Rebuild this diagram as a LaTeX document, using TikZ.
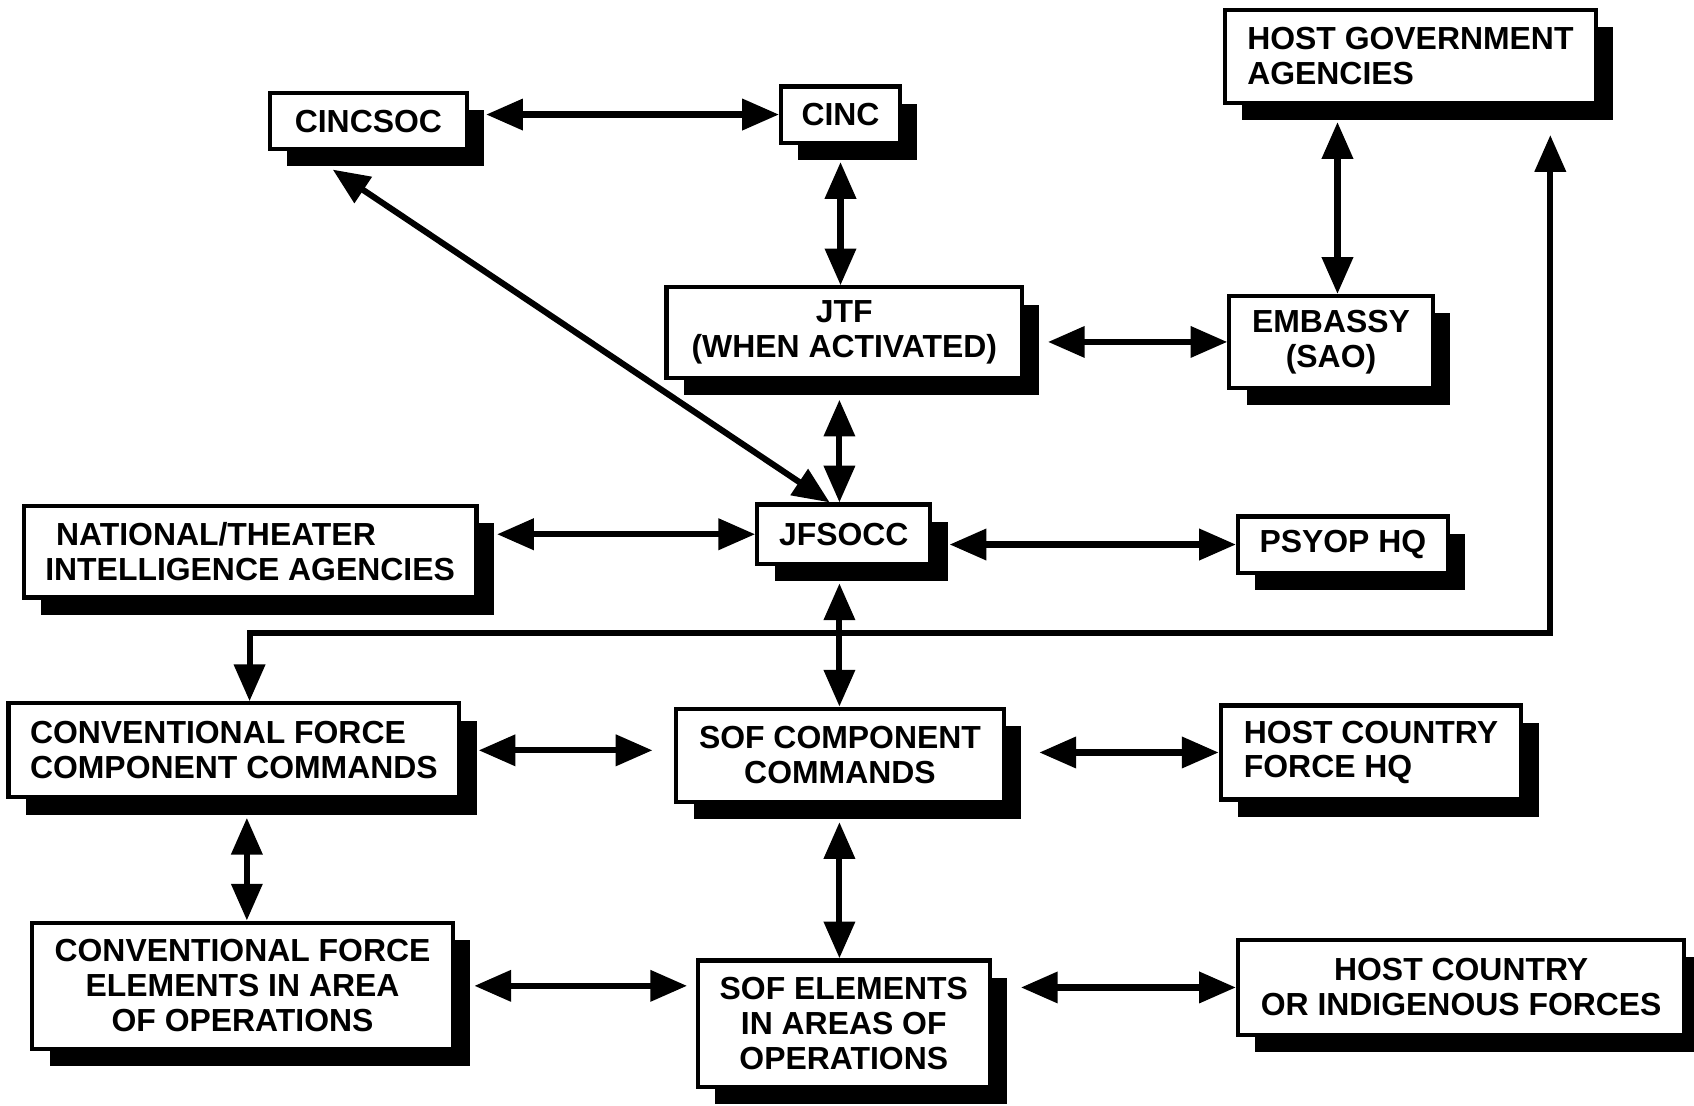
\documentclass[tikz,border=0pt]{standalone}
\usepackage{fontspec}
\setmainfont{Liberation Sans}
\usetikzlibrary{arrows.meta,shadows}

\begin{document}
\begin{tikzpicture}[
	x=0.01cm,
	y=-0.01cm,
	line join=miter
]
\tikzset{
    unitbox/.style = {draw=black, fill=white, line width=1.1pt, inner sep=0pt, align=center,
        font=\bfseries\fontsize{8.4}{9.2}\selectfont,
        drop shadow={shadow xshift=0.16cm, shadow yshift=-0.16cm, fill=black, opacity=1}},
    leftbox/.style = {unitbox, align=left},
    link/.style = {line width=1.6pt,
        {Triangle[length=0.34cm,width=0.28cm]}-{Triangle[length=0.34cm,width=0.28cm]}},
}
    \useasboundingbox (0,0) rectangle (1568,1023);

    \node (cincsoc) [unitbox, minimum width=1.82cm, minimum height=0.52cm] at (341,112) {CINCSOC};
    \node (cinc) [unitbox, minimum width=1.10cm, minimum height=0.52cm] at (778,106) {CINC};
    \node (hga) [leftbox, minimum width=3.43cm, minimum height=0.86cm] at (1305.5,52) {HOST GOVERNMENT\\AGENCIES};
    \node (jtf) [unitbox, minimum width=3.29cm, minimum height=0.84cm] at (781.5,308) {JTF\\(WHEN ACTIVATED)};
    \node (emb) [unitbox, minimum width=1.88cm, minimum height=0.85cm] at (1232,316.5) {EMBASSY\\(SAO)};
    \node (nat) [leftbox, minimum width=4.19cm, minimum height=0.85cm] at (231.5,510.5) {\hspace*{0.1cm}NATIONAL/THEATER\\INTELLIGENCE AGENCIES};
    \node (jfsocc) [unitbox, minimum width=1.60cm, minimum height=0.55cm] at (781,494.5) {JFSOCC};
    \node (psyop) [unitbox, minimum width=1.94cm, minimum height=0.52cm] at (1243,504) {PSYOP HQ};
    \node (cfcc) [leftbox, minimum width=4.17cm, minimum height=0.87cm] at (216.5,694.5) {CONVENTIONAL FORCE\\COMPONENT COMMANDS};
    \node (sofcc) [unitbox, minimum width=3.03cm, minimum height=0.86cm] at (777.5,699) {SOF COMPONENT\\COMMANDS};
    \node (hcfhq) [leftbox, minimum width=2.78cm, minimum height=0.87cm] at (1269,696.5) {HOST COUNTRY\\FORCE HQ};
    \node (cfe) [unitbox, minimum width=3.89cm, minimum height=1.17cm] at (224.5,912.5) {CONVENTIONAL FORCE\\ELEMENTS IN AREA\\OF OPERATIONS};
    \node (sofe) [unitbox, minimum width=2.70cm, minimum height=1.17cm] at (781,947.5) {SOF ELEMENTS\\IN AREAS OF\\OPERATIONS};
    \node (hcif) [unitbox, minimum width=4.13cm, minimum height=0.88cm] at (1352.5,914) {HOST COUNTRY\\OR INDIGENOUS FORCES};

    \coordinate (busL) at (231,586);
    \coordinate (busR) at (1435,586);

    \draw[link] ([xshift=0.16cm]cincsoc.east |- cinc.west) -- (cinc.west);
    \draw[link] ([yshift=-0.16cm]cinc.south) -- (cinc.south |- jtf.north);
    \draw[link] ([xshift=0.22cm]jtf.east |- emb.west) -- (emb.west);
    \draw[link] ([shift={(0.06cm,-0.16cm)}]hga.south -| emb.north) -- ([xshift=0.06cm]emb.north);
    \draw[link] ([shift={(-0.04cm,-0.18cm)}]jtf.south -| jfsocc.north) -- ([xshift=-0.04cm]jfsocc.north);
    \draw[link] ([xshift=-0.13cm]jfsocc.north) -- ([shift={(-0.33cm,-0.17cm)}]cincsoc.south);
    \draw[link] ([xshift=0.17cm]nat.east |- jfsocc.west) -- (jfsocc.west);
    \draw[link] ([xshift=0.16cm]jfsocc.east |- psyop.west) -- (psyop.west);
    \draw[link] ([shift={(-0.04cm,-0.16cm)}]jfsocc.south) -- ([xshift=-0.04cm]jfsocc.south |- sofcc.north);
    \draw[link] (busL |- cfcc.north) -- (busL) -- (busR) -- ([yshift=-0.28cm]busR |- hga.south);
    \draw[link, shorten >=0.2cm] ([xshift=0.16cm]cfcc.east) -- (sofcc.west |- cfcc.east);
    \draw[link] ([xshift=0.31cm]sofcc.east |- hcfhq.west) -- (hcfhq.west);
    \draw[link] ([shift={(0.04cm,-0.17cm)}]cfcc.south -| cfe.north) -- ([xshift=0.04cm]cfe.north);
    \draw[link] ([shift={(-0.04cm,-0.17cm)}]sofcc.south -| sofe.north) -- ([xshift=-0.04cm]sofe.north);
    \draw[link, shorten >=0.08cm] ([xshift=0.18cm]cfe.east) -- (sofe.west |- cfe.east);
    \draw[link] ([xshift=0.27cm]sofe.east |- hcif.west) -- (hcif.west);
\end{tikzpicture}
\end{document}
